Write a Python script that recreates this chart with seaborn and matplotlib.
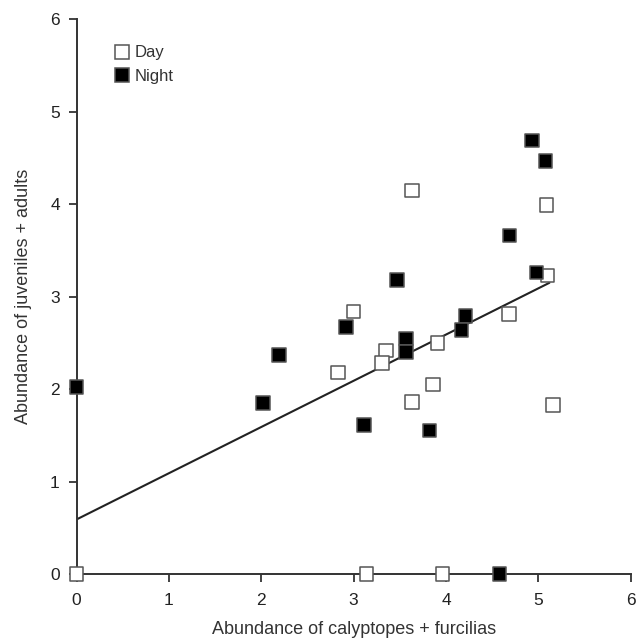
import numpy as np
import pandas as pd
import matplotlib
matplotlib.use("Agg")
import matplotlib.pyplot as plt
import seaborn as sns
from matplotlib import font_manager

# ---- data ----
day_x = [3.63, 5.09, 5.10, 3.00, 4.68, 3.35, 3.31, 3.91, 2.83, 3.86, 3.63, 5.16, 0.00, 3.14, 3.96]
day_y = [4.15, 3.99, 3.23, 2.84, 2.81, 2.42, 2.28, 2.50, 2.18, 2.05, 1.86, 1.83, 0.00, 0.00, 0.00]
night_x = [4.93, 5.08, 4.69, 4.98, 3.47, 2.92, 4.21, 4.17, 3.57, 3.57, 3.11, 3.82, 0.00, 2.19, 2.02, 4.58]
night_y = [4.69, 4.47, 3.66, 3.26, 3.18, 2.67, 2.79, 2.64, 2.55, 2.40, 1.61, 1.55, 2.02, 2.37, 1.85, 0.00]
fit_intercept = 0.59
fit_slope = 0.50
fit_x_range = [0.0, 5.12]
x_ticks = [0, 1, 2, 3, 4, 5, 6]
y_ticks = [0, 1, 2, 3, 4, 5, 6]
x_label = "Abundance of calyptopes + furcilias"
y_label = "Abundance of juveniles + adults"

df = pd.DataFrame({
    "x": day_x + night_x,
    "y": day_y + night_y,
    "period": ["Day"] * len(day_x) + ["Night"] * len(night_x),
})

sns.set_theme(style="ticks")
avail = {f.name for f in font_manager.fontManager.ttflist}
fam = "Liberation Sans Narrow" if "Liberation Sans Narrow" in avail else "Liberation Sans"
plt.rcParams["font.family"] = [fam, "DejaVu Sans"]

fig = plt.figure(figsize=(6.37, 6.38), dpi=100)
ax = fig.add_axes([0.1201, 0.1003, 0.8700, 0.8694])

fx = np.array(fit_x_range)
sns.lineplot(x=fx, y=fit_intercept + fit_slope * fx, ax=ax, color="#222222", lw=1.5, zorder=2)

sns.scatterplot(data=df, x="x", y="y", hue="period",
                palette={"Day": "white", "Night": "black"},
                marker="s", s=95, edgecolor="#555555", linewidth=1.1,
                ax=ax, zorder=3, clip_on=False, legend=True)

ax.set_xlim(0, 6)
ax.set_ylim(0, 6)
ax.set_xticks(x_ticks)
ax.set_yticks(y_ticks)
ax.set_xlabel(x_label, fontsize=13, color="#333333", labelpad=9)
ax.set_ylabel(y_label, fontsize=13, color="#333333", labelpad=13)
ax.tick_params(axis="both", labelsize=12.5, colors="#222222", length=6, width=1.2, direction="out")
ax.tick_params(axis="x", pad=8)
ax.tick_params(axis="y", pad=6)
for t in ax.get_xticklabels() + ax.get_yticklabels():
    t.set_color("#222222")
for s in ["top", "right"]:
    ax.spines[s].set_visible(False)
for s in ["left", "bottom"]:
    ax.spines[s].set_linewidth(1.4)
    ax.spines[s].set_color("#333333")

leg = ax.legend(loc="upper left", bbox_to_anchor=(0.055, 0.965), frameon=False,
                fontsize=12, handletextpad=0.25, labelspacing=0.5, borderaxespad=0,
                handlelength=1.0)
for h in leg.legend_handles:
    try:
        h.set_markeredgecolor("#555555")
    except AttributeError:
        h.set_edgecolor("#555555")
for t in leg.get_texts():
    t.set_color("#333333")

fig.savefig("out.png", dpi=100)
